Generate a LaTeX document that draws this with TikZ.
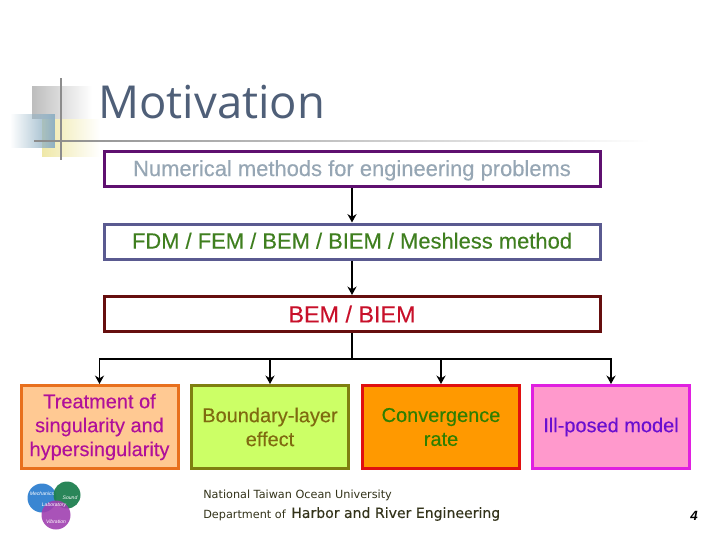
\documentclass[tikz,border=0pt]{standalone}
\usepackage{fontspec}
\setmainfont{Liberation Sans}
\newfontfamily\boxfont[FakeBold=0.25]{Liberation Sans}
\newfontfamily\titlefont{Open Sans}
\newfontfamily\footfont{DejaVu Sans}
\newfontfamily\harborfont[FakeBold=0.3]{DejaVu Sans}
\usetikzlibrary{arrows.meta,fadings}
\definecolor{titlecol}{HTML}{4F5F78}
\definecolor{numcol}{HTML}{96A6B4}
\definecolor{numline}{HTML}{5F1070}
\definecolor{fdmcol}{HTML}{3F7F1F}
\definecolor{fdmline}{HTML}{5A5A90}
\definecolor{bemcol}{HTML}{C8102A}
\definecolor{bemline}{HTML}{660E0E}
\definecolor{treatfill}{HTML}{FFC993}
\definecolor{treatline}{HTML}{E8701E}
\definecolor{treatcol}{HTML}{B0109A}
\definecolor{layerfill}{HTML}{CCFF66}
\definecolor{layerline}{HTML}{7F7F10}
\definecolor{layercol}{HTML}{7F6A10}
\definecolor{ratefill}{HTML}{FF9900}
\definecolor{rateline}{HTML}{E01010}
\definecolor{ratecol}{HTML}{2F7F00}
\definecolor{illfill}{HTML}{FF99CC}
\definecolor{illline}{HTML}{E020E0}
\definecolor{illcol}{HTML}{6A0FD0}
\definecolor{footcol}{HTML}{33331A}
\definecolor{greysq}{HTML}{BDBDBD}
\definecolor{yellowsq}{HTML}{EFE8A8}
\definecolor{bluesq}{HTML}{8FB0C4}
\definecolor{guidecol}{HTML}{8C8C8C}
\definecolor{logoblue}{HTML}{2F7FD0}
\definecolor{logogreen}{HTML}{1F7F50}
\definecolor{logopurple}{HTML}{A040B0}
\tikzset{
  widebox/.style={draw, line width=3pt*0.711, fill=white, minimum width=496*0.025cm,
    minimum height=35*0.025cm, inner sep=0pt, text height=13pt, text depth=3pt,
    font=\boxfont\fontsize{15.6}{17}\selectfont},
  smallbox/.style={draw, line width=3pt*0.711, minimum width=157*0.025cm,
    minimum height=83*0.025cm, inner sep=0pt, align=center,
    font=\boxfont\fontsize{14.2}{17}\selectfont},
  link/.style={line width=1.4pt, -{Stealth[length=6pt,width=6.5pt]}},
  trunk/.style={line width=1.4pt},
  guide/.style={line width=1.6pt, color=guidecol},
  logotext/.style={text=white, inner sep=0pt, font=\itshape\fontsize{3.6}{4}\selectfont}
}
\begin{document}
\begin{tikzpicture}[x=0.025cm, y=-0.025cm]
  \useasboundingbox (0,0) rectangle (720,540);
  % corner squares
  \fill[greysq, path fading=east] (32,86) rectangle (92,119);
  \fill[yellowsq, path fading=east] (42,119) rectangle (100,157);
  \fill[bluesq, path fading=west] (10,114) rectangle (55,148);
  \fill[guidecol, path fading=east] (34,140.2) rectangle (650,141.8);
  \draw[guide] (61,78) -- (61,160);
  \node[anchor=west, inner sep=0pt, text=titlecol, font=\titlefont\fontsize{32.3}{38}\selectfont] (title) at (98,102) {Motivation};
  % chain of boxes
  \node[widebox, draw=numline, text=numcol] (numerical) at (352,169) {Numerical methods for engineering problems};
  \node[widebox, draw=fdmline, text=fdmcol] (methods) at (352,241.5) {FDM / FEM / BEM / BIEM / Meshless method};
  \node[widebox, draw=bemline, text=bemcol, text height=14pt, text depth=2pt, font=\boxfont\fontsize{16.6}{18}\selectfont] (bem) at (352,314) {BEM / BIEM};
  \node[smallbox, fill=treatfill, draw=treatline, text=treatcol] (treatment) at (99.5,427) {Treatment of\\singularity and\\hypersingularity};
  \node[smallbox, fill=layerfill, draw=layerline, text=layercol] (layer) at (270,427) {Boundary-layer\\effect};
  \node[smallbox, fill=ratefill, draw=rateline, text=ratecol] (rate) at (441,427) {Convergence\\rate};
  \node[smallbox, fill=illfill, draw=illline, text=illcol] (illposed) at (611,427) {Ill-posed model};
  \coordinate (branch) at (352,359);
  \draw[link] (numerical) -- (methods);
  \draw[link] (methods) -- (bem);
  \draw[trunk] (bem) -- (branch);
  \draw[link] (branch) -| (treatment.north);
  \draw[link] (branch) -| (layer.north);
  \draw[link] (branch) -| (rate.north);
  \draw[link] (branch) -| (illposed.north);
  % logo
  \fill[logoblue, opacity=.95] (42,498) circle (14.5);
  \fill[logogreen, opacity=.95] (67,495) circle (13.5);
  \fill[logopurple, opacity=.9] (56,515) circle (14.5);
  \node[logotext] (mech) at (42,494) {Mechanics};
  \node[logotext] (sound) at (70,498) {Sound};
  \node[logotext] (vib) at (56,522) {Vibration};
  \node[logotext] (lab) at (54,505) {Laboratory};
  % footer
  \node[anchor=west, inner sep=0pt, text=footcol, font=\footfont\fontsize{8}{10}\selectfont] (univ) at (203,495.5) {National Taiwan Ocean University};
  \node[anchor=west, inner sep=0pt, text=footcol, font=\footfont\fontsize{8}{10}\selectfont] (dept) at (203,515) {Department of};
  \node[anchor=west, inner sep=0pt, text=footcol, font=\harborfont\fontsize{10}{12}\selectfont] (harbor) at (291,514) {Harbor and River Engineering};
  \node[inner sep=0pt, font=\bfseries\itshape\fontsize{9.5}{10}\selectfont] (page) at (694,516) {4};
\end{tikzpicture}
\end{document}
